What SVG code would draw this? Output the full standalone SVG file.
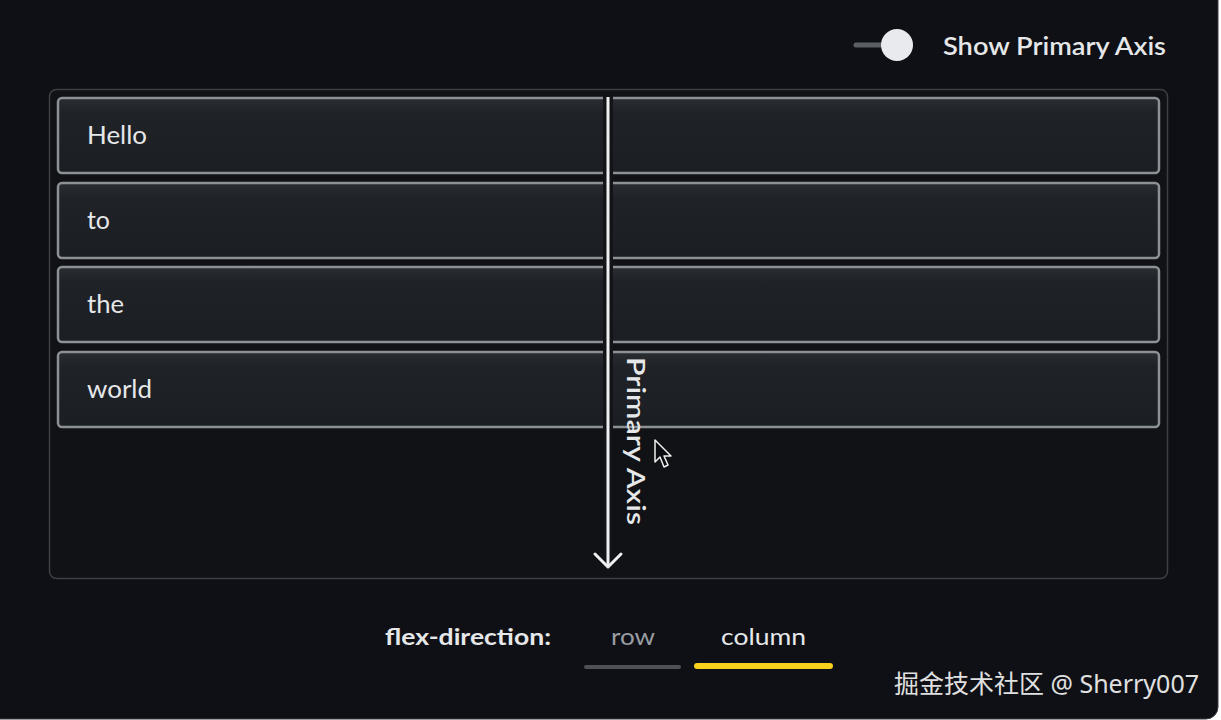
<svg xmlns="http://www.w3.org/2000/svg" width="1221" height="720" viewBox="0 0 1221 720">
<style>
.txt{font-family:Lato,"Noto Sans","Liberation Sans",sans-serif;fill:#e6e7e9}
.item-box{fill:url(#itemFill);stroke:#8c9196;stroke-width:2.5}
.item-label{font-size:25px}
</style>
<defs>
<linearGradient id="itemFill" x1="0" y1="0" x2="0" y2="1">
<stop offset="0" stop-color="#2a2d31"/>
<stop offset="0.2" stop-color="#1f2226"/>
<stop offset="1" stop-color="#1b1e22"/>
</linearGradient>
</defs>
<rect x="0" y="0" width="1221" height="720" fill="#ffffff"/>
<rect x="-12" y="-12" width="1230" height="731" rx="12" fill="#0e1015" stroke="#3a3c40" stroke-width="1"/>
<g id="toggle">
<line x1="856" y1="45" x2="888" y2="45" stroke="#5b5e63" stroke-width="5" stroke-linecap="round"/>
<circle cx="897" cy="45" r="16" fill="#e9eaee"/>
<text class="txt" x="943" y="55" font-size="24" font-weight="600" textLength="223" lengthAdjust="spacingAndGlyphs">Show Primary Axis</text>
</g>
<g id="container">
<rect x="49.5" y="89.5" width="1118" height="489" rx="7" fill="#101216" stroke="#3c3f44" stroke-width="1.5"/>
</g>
<g id="item-hello">
<rect class="item-box" x="58" y="98" width="1101" height="75" rx="4"/>
<text class="txt item-label" x="87" y="144" textLength="60" lengthAdjust="spacingAndGlyphs">Hello</text>
</g>
<g id="item-to">
<rect class="item-box" x="58" y="183" width="1101" height="75" rx="4"/>
<text class="txt item-label" x="87" y="229" textLength="23" lengthAdjust="spacingAndGlyphs">to</text>
</g>
<g id="item-the">
<rect class="item-box" x="58" y="267" width="1101" height="75" rx="4"/>
<text class="txt item-label" x="87" y="313" textLength="37" lengthAdjust="spacingAndGlyphs">the</text>
</g>
<g id="item-world">
<rect class="item-box" x="58" y="352" width="1101" height="75" rx="4"/>
<text class="txt item-label" x="87" y="398" textLength="65" lengthAdjust="spacingAndGlyphs">world</text>
</g>
<g id="connectors">
<line x1="608" y1="96" x2="608" y2="568" stroke="#121418" stroke-width="10"/>
<line x1="608" y1="97" x2="608" y2="567" stroke="#eef0f2" stroke-width="3"/>
<polyline points="595,554 608,567 621,554" fill="none" stroke="#eef0f2" stroke-width="3" stroke-linecap="round" stroke-linejoin="round"/>
</g>
<g id="axis-label">
<text class="txt" x="0" y="0" font-size="25" font-weight="600" textLength="168" lengthAdjust="spacingAndGlyphs" transform="translate(627,357) rotate(90)">Primary Axis</text>
</g>
<g id="cursor">
<path d="M655,440 L655,462 L660,457 L664,467 L668,465 L664,456 L671,456 Z" fill="#0b0c0f" stroke="#f0f0f0" stroke-width="1.5" stroke-linejoin="round"/>
</g>
<g id="controls">
<text class="txt" x="385" y="645" font-size="23" font-weight="700" textLength="166" lengthAdjust="spacingAndGlyphs">flex-direction:</text>
<text class="txt" x="611" y="645" font-size="23" style="fill:#9a9da1" textLength="44" lengthAdjust="spacingAndGlyphs">row</text>
<text class="txt" x="721" y="645" font-size="23" textLength="85" lengthAdjust="spacingAndGlyphs">column</text>
<line x1="586" y1="667" x2="679" y2="667" stroke="#4d5055" stroke-width="4" stroke-linecap="round"/>
<line x1="697" y1="666" x2="830" y2="666" stroke="#f7d11c" stroke-width="6" stroke-linecap="round"/>
</g>
<g id="watermark">
<text x="894" y="693" font-size="25" fill="#e0e0e0" font-family="'Noto Sans','Noto Sans CJK SC',sans-serif" textLength="305" lengthAdjust="spacingAndGlyphs">掘金技术社区 @ Sherry007</text>
</g>
</svg>
